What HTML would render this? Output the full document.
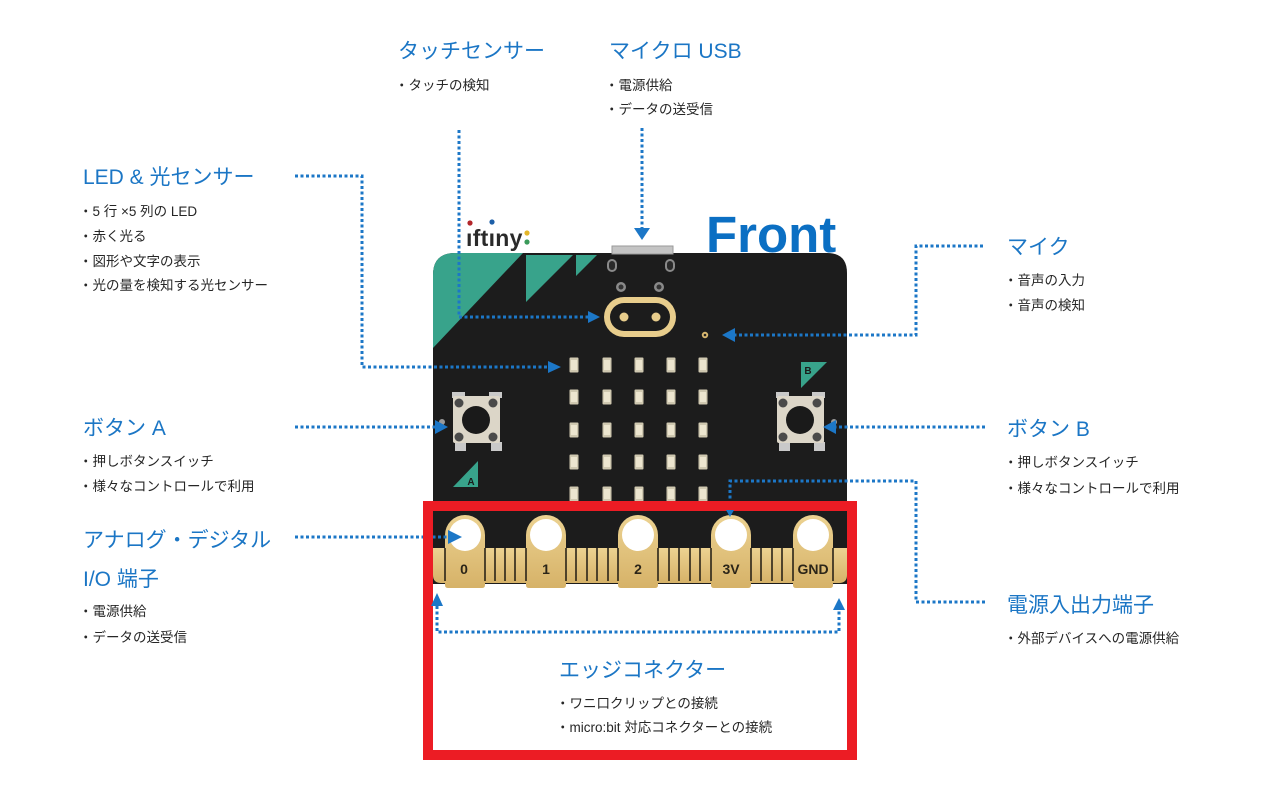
<!DOCTYPE html>
<html><head><meta charset="utf-8">
<style>
html,body{margin:0;padding:0;background:#fff;width:1280px;height:800px;overflow:hidden}
svg{display:block}
.t{font-family:"Liberation Sans","Noto Sans CJK JP",sans-serif;font-size:21px;fill:#1b76c5}
.b{font-family:"Liberation Sans","Noto Sans CJK JP",sans-serif;font-size:13.5px;fill:#262626}
.pl{font-family:"Liberation Sans",sans-serif;font-weight:bold;font-size:14px;fill:#2b2518;text-anchor:middle}
</style></head><body>
<svg width="1280" height="800" viewBox="0 0 1280 800">
<defs>
<clipPath id="bc"><path d="M433,275 Q433,253 455,253 L827,253 Q847,253 847,273 L847,584 L433,584 Z"/></clipPath>
<linearGradient id="gold" x1="0" y1="0" x2="0" y2="1">
<stop offset="0" stop-color="#ecd291"/><stop offset="1" stop-color="#d6b268"/>
</linearGradient>
<g id="ledrow">
<rect x="569.5" y="-7.5" width="9" height="15" rx="1" fill="#cfc8b0"/><rect x="571" y="-5" width="6" height="10" fill="#ece5cf"/>
<rect x="602.5" y="-7.5" width="9" height="15" rx="1" fill="#cfc8b0"/><rect x="604" y="-5" width="6" height="10" fill="#ece5cf"/>
<rect x="634.5" y="-7.5" width="9" height="15" rx="1" fill="#cfc8b0"/><rect x="636" y="-5" width="6" height="10" fill="#ece5cf"/>
<rect x="666.5" y="-7.5" width="9" height="15" rx="1" fill="#cfc8b0"/><rect x="668" y="-5" width="6" height="10" fill="#ece5cf"/>
<rect x="698.5" y="-7.5" width="9" height="15" rx="1" fill="#cfc8b0"/><rect x="700" y="-5" width="6" height="10" fill="#ece5cf"/>
</g>
</defs>
<rect width="1280" height="800" fill="#fff"/>

<!-- board -->
<path d="M433,275 Q433,253 455,253 L827,253 Q847,253 847,273 L847,584 L433,584 Z" fill="#1c1c1c"/>
<g clip-path="url(#bc)" fill="#38a38b">
<polygon points="433,253 523,253 433,348"/>
<polygon points="526,255 573,255 526,302"/>
<polygon points="576,255 597,255 576,276"/>
</g>

<!-- USB -->
<rect x="612" y="246" width="61" height="8" fill="#c4c4c4" stroke="#9a9a9a" stroke-width="1"/>
<!-- holes -->
<rect x="607" y="259" width="10" height="13" rx="5" fill="#8a8a8a"/>
<rect x="609" y="261" width="6" height="9" rx="3" fill="#2a2a2a"/>
<rect x="665" y="259" width="10" height="13" rx="5" fill="#8a8a8a"/>
<rect x="667" y="261" width="6" height="9" rx="3" fill="#2a2a2a"/>
<circle cx="621" cy="287" r="5" fill="#8a8a8a"/><circle cx="621" cy="287" r="2.5" fill="#333"/>
<circle cx="659" cy="287" r="5" fill="#8a8a8a"/><circle cx="659" cy="287" r="2.5" fill="#333"/>

<!-- touch logo -->
<rect x="604" y="297" width="72" height="40" rx="20" fill="#e8cd8c"/>
<rect x="610" y="303" width="60" height="28" rx="14" fill="#1c1c1c"/>
<circle cx="624" cy="317" r="4.5" fill="#e8cd8c"/>
<circle cx="656" cy="317" r="4.5" fill="#e8cd8c"/>
<!-- mic -->
<circle cx="705" cy="335" r="3.2" fill="#d9b870"/><circle cx="705" cy="335" r="1.3" fill="#222"/>

<!-- LEDs -->
<use href="#ledrow" transform="translate(0,365)"/>
<use href="#ledrow" transform="translate(0,397)"/>
<use href="#ledrow" transform="translate(0,430)"/>
<use href="#ledrow" transform="translate(0,462)"/>
<use href="#ledrow" transform="translate(0,494)"/>

<!-- Button A -->
<circle cx="442" cy="422" r="3" fill="#9a9a9a"/>
<rect x="452" y="392" width="13" height="6" fill="#c9c9c9"/>
<rect x="489" y="392" width="13" height="6" fill="#c9c9c9"/>
<rect x="455" y="442" width="11" height="9" fill="#c9c9c9"/>
<rect x="491" y="442" width="11" height="9" fill="#c9c9c9"/>
<rect x="453" y="396" width="47" height="47" rx="2" fill="#dcd6c8"/>
<circle cx="476" cy="420" r="14" fill="#1a1a1a"/>
<circle cx="459" cy="403" r="4.5" fill="#4a4a4a"/><circle cx="493" cy="403" r="4.5" fill="#4a4a4a"/>
<circle cx="459" cy="437" r="4.5" fill="#4a4a4a"/><circle cx="493" cy="437" r="4.5" fill="#4a4a4a"/>
<!-- Button B -->
<circle cx="834" cy="422" r="3" fill="#9a9a9a"/>
<rect x="776" y="392" width="13" height="6" fill="#c9c9c9"/>
<rect x="812" y="392" width="13" height="6" fill="#c9c9c9"/>
<rect x="779" y="442" width="11" height="9" fill="#c9c9c9"/>
<rect x="814" y="442" width="11" height="9" fill="#c9c9c9"/>
<rect x="777" y="396" width="47" height="47" rx="2" fill="#dcd6c8"/>
<circle cx="800" cy="420" r="14" fill="#1a1a1a"/>
<circle cx="783" cy="403" r="4.5" fill="#4a4a4a"/><circle cx="817" cy="403" r="4.5" fill="#4a4a4a"/>
<circle cx="783" cy="437" r="4.5" fill="#4a4a4a"/><circle cx="817" cy="437" r="4.5" fill="#4a4a4a"/>

<!-- A / B triangles -->
<polygon points="453,487 478,461 478,487" fill="#38a38b"/>
<text x="471" y="485" font-family="Liberation Sans, sans-serif" font-weight="bold" font-size="10" fill="#1a1a1a" text-anchor="middle">A</text>
<polygon points="801,362 827,362 801,388" fill="#38a38b"/>
<text x="808" y="374" font-family="Liberation Sans, sans-serif" font-weight="bold" font-size="10" fill="#1a1a1a" text-anchor="middle">B</text>

<!-- edge connector -->
<path d="M433,548 H847 V575 Q847,583 839,583 H441 Q433,583 433,575 Z" fill="url(#gold)"/>
<g fill="url(#gold)">
<path d="M445,535 A20,20 0 0 1 485,535 V585 Q485,588 482,588 H448 Q445,588 445,585 Z"/>
<path d="M526,535 A20,20 0 0 1 566,535 V585 Q566,588 563,588 H529 Q526,588 526,585 Z"/>
<path d="M618,535 A20,20 0 0 1 658,535 V585 Q658,588 655,588 H621 Q618,588 618,585 Z"/>
<path d="M711,535 A20,20 0 0 1 751,535 V585 Q751,588 748,588 H714 Q711,588 711,585 Z"/>
<path d="M793,535 A20,20 0 0 1 833,535 V585 Q833,588 830,588 H796 Q793,588 793,585 Z"/>
</g>
<g fill="#fff">
<circle cx="465" cy="535" r="16"/><circle cx="546" cy="535" r="16"/><circle cx="638" cy="535" r="16"/>
<circle cx="731" cy="535" r="16"/><circle cx="813" cy="535" r="16"/>
</g>
<g stroke="#2a2418" stroke-width="1.6">
<line x1="445" y1="548" x2="445" y2="581"/>
<line x1="485" y1="548" x2="485" y2="581"/><line x1="495" y1="548" x2="495" y2="581"/><line x1="505" y1="548" x2="505" y2="581"/><line x1="515" y1="548" x2="515" y2="581"/><line x1="526" y1="548" x2="526" y2="581"/>
<line x1="566" y1="548" x2="566" y2="581"/><line x1="576" y1="548" x2="576" y2="581"/><line x1="587" y1="548" x2="587" y2="581"/><line x1="597" y1="548" x2="597" y2="581"/><line x1="608" y1="548" x2="608" y2="581"/><line x1="618" y1="548" x2="618" y2="581"/>
<line x1="658" y1="548" x2="658" y2="581"/><line x1="669" y1="548" x2="669" y2="581"/><line x1="679" y1="548" x2="679" y2="581"/><line x1="690" y1="548" x2="690" y2="581"/><line x1="700" y1="548" x2="700" y2="581"/><line x1="711" y1="548" x2="711" y2="581"/>
<line x1="751" y1="548" x2="751" y2="581"/><line x1="761" y1="548" x2="761" y2="581"/><line x1="772" y1="548" x2="772" y2="581"/><line x1="782" y1="548" x2="782" y2="581"/><line x1="793" y1="548" x2="793" y2="581"/>
<line x1="833" y1="548" x2="833" y2="581"/>
</g>
<text class="pl" x="464" y="574">0</text>
<text class="pl" x="546" y="574">1</text>
<text class="pl" x="638" y="574">2</text>
<text class="pl" x="731" y="574">3V</text>
<text class="pl" x="813" y="574">GND</text>

<!-- logo -->
<text x="466" y="246" font-family="Liberation Sans, sans-serif" font-weight="bold" font-size="23" fill="#2a2a2a" letter-spacing="0.3">ıftıny</text>
<circle cx="470" cy="223" r="2.6" fill="#b3262a"/>
<circle cx="492" cy="222" r="2.6" fill="#1d5fa8"/>
<circle cx="527" cy="233" r="2.6" fill="#e3b62a"/>
<circle cx="527" cy="242" r="2.6" fill="#3a9a5a"/>
<text x="706" y="252" font-family="Liberation Sans, sans-serif" font-weight="bold" font-size="51" fill="#0b6fc3">Front</text>

<!-- dotted connectors -->
<g fill="none" stroke="#1c77c7" stroke-width="3" stroke-dasharray="3 2.5">
<path d="M459,130 V317 H589"/>
<path d="M642,128 V229"/>
<path d="M295,176 H362 V367 H549"/>
<path d="M983,246 H916 V335 H735"/>
<path d="M295,427 H436"/>
<path d="M985,427 H836"/>
<path d="M295,537 H449"/>
<path d="M985,602 H916 V481 H730 V510"/>
<path d="M437,606 V632 H839 V610"/>
</g>

<!-- red frame -->
<rect x="428" y="506" width="424" height="249" fill="none" stroke="#ec1c24" stroke-width="10"/>

<!-- arrowheads -->
<g fill="#1c77c7">
<polygon points="588,311 600,317 588,323"/>
<polygon points="634,228 650,228 642,240"/>
<polygon points="548,361 561,367 548,373"/>
<polygon points="735,328 722,335 735,342"/>
<polygon points="435,420 448,427 435,434"/>
<polygon points="836,420 823,427 836,434"/>
<polygon points="448,530 462,537 448,544"/>
<polygon points="726,510 734,510 730,517"/>
<polygon points="431,606 437,593 443,606"/>
<polygon points="833,610 839,598 845,610"/>
</g>

<!-- titles -->
<text class="t" x="398" y="58">タッチセンサー</text>
<text class="t" x="609" y="58">マイクロ USB</text>
<text class="t" x="83" y="184">LED &amp; 光センサー</text>
<text class="t" x="1007" y="254">マイク</text>
<text class="t" x="83" y="435">ボタン A</text>
<text class="t" x="1007" y="436">ボタン B</text>
<text class="t" x="83" y="547">アナログ・デジタル</text>
<text class="t" x="83" y="586">I/O 端子</text>
<text class="t" x="1007" y="612">電源入出力端子</text>
<text class="t" x="559" y="677">エッジコネクター</text>

<!-- bullets -->
<text class="b" x="395" y="90">・タッチの検知</text>
<text class="b" x="605" y="90">・電源供給</text>
<text class="b" x="605" y="114">・データの送受信</text>
<text class="b" x="79" y="216">・5 行 ×5 列の LED</text>
<text class="b" x="79" y="241">・赤く光る</text>
<text class="b" x="79" y="266">・図形や文字の表示</text>
<text class="b" x="79" y="290">・光の量を検知する光センサー</text>
<text class="b" x="1004" y="285">・音声の入力</text>
<text class="b" x="1004" y="310">・音声の検知</text>
<text class="b" x="79" y="466">・押しボタンスイッチ</text>
<text class="b" x="79" y="491">・様々なコントロールで利用</text>
<text class="b" x="1004" y="467">・押しボタンスイッチ</text>
<text class="b" x="1004" y="493">・様々なコントロールで利用</text>
<text class="b" x="79" y="616">・電源供給</text>
<text class="b" x="79" y="642">・データの送受信</text>
<text class="b" x="1004" y="643">・外部デバイスへの電源供給</text>
<text class="b" x="556" y="708">・ワニ口クリップとの接続</text>
<text class="b" x="556" y="732">・micro:bit 対応コネクターとの接続</text>
</svg>
</body></html>
